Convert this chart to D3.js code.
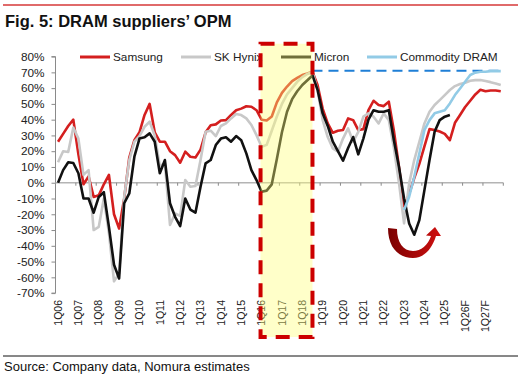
<!DOCTYPE html>
<meta charset="utf-8">
<style>
body { margin: 0; background: #fff; }
svg { font-family: "Liberation Sans", Arial, sans-serif; }
.yaxis path, .yaxis line { stroke: #8a8a8a; }
.yaxis text { font-size: 11.8px; fill: #222; }
.xlab { font-size: 10.5px; fill: #222; }
.legend text { font-size: 11.8px; fill: #222; }
.series { fill: none; stroke-width: 2.6; stroke-linejoin: round; }
</style>
<svg id="chart" width="532" height="375"></svg>
<script src="https://d3js.org/d3.v7.min.js"></script>
<script>

// quarterly OPM (%), 1Q06 .. 4Q27 (88 quarters)
var samsung = [26, 31, 36, 40, 18, -1, 4, -9, -8, -1, 5, -20, -29, -10, 16, 27,
  32, 43, 50, 32, 26, 26, 20, 17.5, 12.7, 19.7, 16.5, 16, 21, 32, 36.5, 37,
  39.5, 39.7, 43, 46, 47, 48.5, 48.2, 46, 40, 39.5, 42, 51, 57, 61, 64.5, 66.5,
  68.3, 69.3, 70.4, 62, 47, 37.6, 31.7, 33, 33.4, 40.8, 39.7, 33.4, 34, 46,
  52, 49.3, 48.6, 51.4, 33, 10, -15, -7, 3, 12, 23, 34, 33.5, 32.5, 31, 27,
  38, 43, 48, 52, 56, 59, 58, 58.5, 58.5, 58];

var skHynix = [13, 20, 19.5, 35, 28, 5, 8, -30, -28, -10, -32, -62.5, -57.5, -9, 14.4, 26,
  29.6, 35.5, 38.7, 30, 10.6, 12.3, -26.8, -19.5, -21, 1.7, -2.5, -2.1, 14.4, 32.3, 33, 29.6,
  36, 37.6, 40.8, 43.6, 42.9, 40.8, 36.6, 30.2, 22.8, 24, 33, 42, 50, 56, 60, 64,
  67, 69, 70.4, 58.8, 39.7, 29, 21.8, 19.7, 28, 34.5, 26, 32.3, 41.9, 44,
  41.9, 37.6, 44, 39.7, 22, 0, -25.8, -0.4, 14.4, 26, 37.6, 45, 49.3, 52.4, 55.6, 58.8,
  61.3, 62.6, 63.4, 64.7, 65.1, 65.1, 64.5, 63.8, 63, 62];

var micron = [0, 8, 13, 12.5, 6, -10, -10, -19, -9, -6, -28, -52, -60.7, -13, -6.8, 16.5,
  28, 28.8, 31.3, 26, 6, 14.4, -13, -21.6, -27.5, -10, -17, -19, -2.5, 12.3, 14.4, 23.9,
  28, 28.8, 26, 29.6, 27, 18.6, 8, 1.7, -5.7, -5, -1, 15, 32, 45, 53, 58,
  62, 65, 68, 59, 44, 36, 26, 20, 14, 22, 29, 18, 28, 40,
  46, 45, 45, 46, 27, 10, -10, -25.8, -33, -23.7, -4.7, 14.4, 32.3, 39.7, 41.9, 42.9,
  null, null, null, null, null, null, null, null, null, null];

var commodity = [null, null, null, null, null, null, null, null, null, null, null, null, null, null, null, null,
  null, null, null, null, null, null, null, null, null, null, null, null, null, null, null, null,
  null, null, null, null, null, null, null, null, null, null, null, null, null, null, null, null,
  null, null, null, null, null, null, null, null, null, null, null, null, null, null, null, null,
  null, null, null, null, -17.3, -8.9, 3.8, 18.6, 33.4, 39.7, 44, 45, 46, 50.3, 55.6, 59.8,
  64, 68.3, 69.8, 70.4, 70.4, 70.8, 70.8, 70.8];

var peakLevel = 71;   // blue dashed reference line
var years = ["06","07","08","09","10","11","12","13","14","15","16","17","18","19","20","21","22","23","24","25","26","27"];
var tickLabels = ["1Q06","1Q07","1Q08","1Q09","1Q10","1Q11","1Q12","1Q13","1Q14","1Q15","1Q16",
  "1Q17","1Q18","1Q19","1Q20","1Q21","1Q22","1Q23","1Q24","1Q25","1Q26F","1Q27F"];
var yTicks = [80, 70, 60, 50, 40, 30, 20, 10, 0, -10, -20, -30, -40, -50, -60, -70];

var seriesNames = ["Samsung", "SK Hynix", "Micron", "Commodity DRAM"];
var seriesColors = ["#d41f1f", "#c8c8c8", "#111111", "#92cbe6"];

var quarters = [];
years.forEach(function(y) {
  for (var q = 1; q <= 4; q++) quarters.push(q + "Q" + y);
});
// forecast quarters carry an F on the tick labels only
tickLabels.forEach(function(t, k) { quarters[k * 4] = t; });

var svg = d3.select("#chart");

var x = d3.scaleBand().domain(quarters).range([55.5, 503.3]).padding(0);
var y = d3.scaleLinear().domain([-70, 80]).range([293.1, 56.6]);
function cx(i) { return x(quarters[i]) + x.bandwidth() / 2; }

// top rule and title
svg.append("line").attr("x1", 3).attr("x2", 518).attr("y1", 5).attr("y2", 5)
    .attr("stroke", "#e06a6a").attr("stroke-width", 2);
svg.append("text").attr("x", 5).attr("y", 27)
    .attr("font-size", "16.5px").attr("font-weight", "bold").attr("fill", "#111")
    .text("Fig. 5: DRAM suppliers\u2019 OPM");

// y axis
svg.append("g").attr("class", "yaxis")
    .attr("transform", "translate(55.5,0)")
    .call(d3.axisLeft(y).tickValues(yTicks).tickSize(4).tickPadding(7)
      .tickFormat(function(d) { return d + "%"; }))
    .call(function(g) { g.select(".domain").attr("d", "M-4," + y(80) + "H0V" + y(-70) + "H-4"); });

// x axis at 0%
var xr = x.range();
svg.append("line").attr("x1", xr[0]).attr("x2", xr[1]).attr("y1", y(0)).attr("y2", y(0))
    .attr("stroke", "#b4b4b4").attr("stroke-width", 1.5);
var tickPos = tickLabels.map(function(t) { return x(t); }).concat([xr[1]]);
svg.append("g").selectAll("line").data(tickPos.slice(1)).enter().append("line")
    .attr("x1", function(d) { return d; }).attr("x2", function(d) { return d; })
    .attr("y1", y(0)).attr("y2", y(0) + 3)
    .attr("stroke", "#8a8a8a");

svg.append("g").selectAll("text").data(tickLabels).enter().append("text")
    .attr("class", "xlab")
    .attr("text-anchor", "end")
    .attr("dy", "0.35em")
    .attr("transform", function(d) { return "translate(" + (x(d) + x.bandwidth() / 2) + ",300) rotate(-90)"; })
    .text(function(d) { return d; });

// blue dashed peak line
svg.append("line")
    .attr("x1", cx(50)).attr("x2", xr[1])
    .attr("y1", y(peakLevel)).attr("y2", y(peakLevel))
    .attr("stroke", "#1f7fd6").attr("stroke-width", 2).attr("stroke-dasharray", "10,6");

// series
var line = d3.line()
    .defined(function(d) { return d != null; })
    .x(function(d, i) { return cx(i); })
    .y(function(d) { return y(d); });

[samsung, skHynix, micron, commodity].forEach(function(s, k) {
  svg.append("path").attr("class", "series")
      .attr("d", line(s))
      .attr("stroke", seriesColors[k]);
});

// legend
var legendX = [80, 181, 281, 367];
var lg = svg.append("g").attr("class", "legend");
seriesNames.forEach(function(n, k) {
  lg.append("line").attr("x1", legendX[k]).attr("x2", legendX[k] + 30)
      .attr("y1", 57).attr("y2", 57)
      .attr("stroke", seriesColors[k]).attr("stroke-width", 3);
  lg.append("text").attr("x", legendX[k] + 33).attr("y", 57).attr("dy", "0.35em").text(n);
});

// red U-turn arrow
var grad = svg.append("defs").append("linearGradient").attr("id", "arrowGrad")
    .attr("x1", "0%").attr("x2", "100%").attr("y1", "0%").attr("y2", "0%");
grad.append("stop").attr("offset", "0%").attr("stop-color", "#7a0000");
grad.append("stop").attr("offset", "100%").attr("stop-color", "#d01010");
svg.append("path")
    .attr("d", "M388,228 C388,248 399,258 413,258 C424,258 432,249 436,236 L441,236 L435,227 L426,235.5 L431,236 C428,245 421,251 413,251 C403,251 397,242 397,229 Z")
    .attr("fill", "url(#arrowGrad)");

// highlighted period
var hl = { x0: x(quarters[40]) + 1.5, x1: cx(50), y0: 43.7, y1: 337 };
svg.append("rect")
    .attr("x", hl.x0).attr("y", hl.y0)
    .attr("width", hl.x1 - hl.x0).attr("height", hl.y1 - hl.y0)
    .attr("fill", "rgb(255,255,120)").attr("fill-opacity", 0.4);
svg.append("rect")
    .attr("x", hl.x0).attr("y", hl.y0)
    .attr("width", hl.x1 - hl.x0).attr("height", hl.y1 - hl.y0)
    .attr("fill", "none").attr("stroke", "#cc0000").attr("stroke-width", 4)
    .attr("stroke-dasharray", "14,9");

// source
svg.append("line").attr("x1", 3).attr("x2", 518).attr("y1", 356).attr("y2", 356)
    .attr("stroke", "#111").attr("stroke-width", 1);
svg.append("text").attr("x", 4).attr("y", 371).attr("font-size", "13px").attr("fill", "#111")
    .text("Source: Company data, Nomura estimates");

</script>
